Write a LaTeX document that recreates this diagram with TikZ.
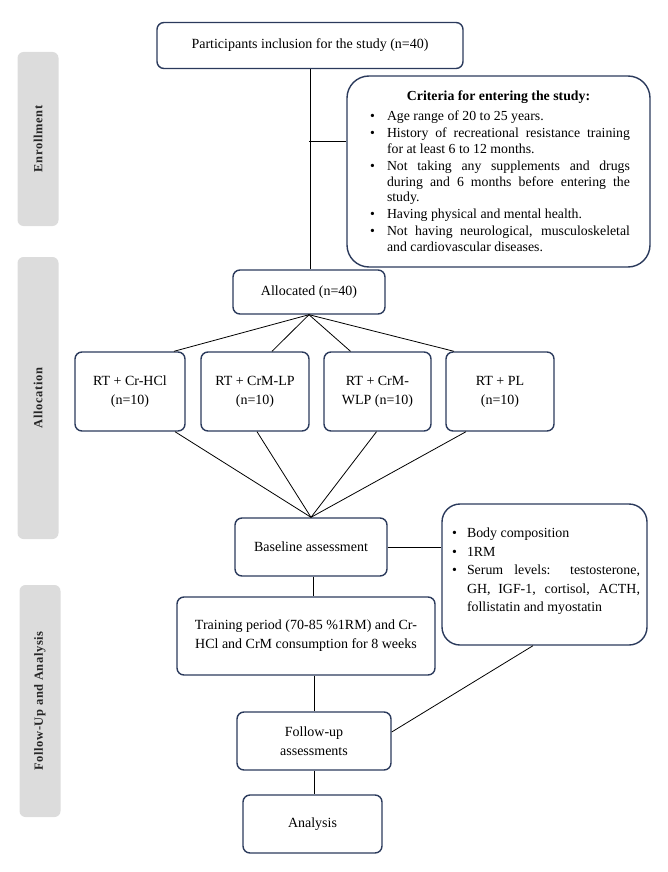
\documentclass[tikz,border=0pt]{standalone}
\usepackage{fontspec}
\setmainfont{Liberation Serif}
\usepackage{enumitem}
\definecolor{boxline}{HTML}{2B3A5C}
\definecolor{lanegray}{HTML}{DCDCDC}
\tikzset{
  stage/.style={draw=boxline, line width=1.4pt, rounded corners=7pt, align=center,
    inner sep=2pt, font=\fontsize{14}{19}\selectfont},
  lane/.style={fill=lanegray, rounded corners=6pt, rotate=90, minimum height=41pt,
    text=black!85, font=\bfseries\fontsize{12.5}{14}\selectfont\addfontfeature{LetterSpace=5}},
  link/.style={line width=0.8pt}
}
\begin{document}
\begin{tikzpicture}[x=1pt, y=-1pt]
    \useasboundingbox (0,0) rectangle (668,872);
    % Lanes
    \node[lane, minimum width=174pt] (enr) at (38,139) {Enrollment};
    \node[lane, minimum width=282pt] (allo) at (38,398) {Allocation};
    \node[lane, minimum width=232pt] (fua) at (40,701) {Follow-Up and Analysis};
    % Nodes
    \node[stage, minimum width=306pt, minimum height=46pt] (top) at (310,45.5) {Participants inclusion for the study (n=40)};
    \node[stage, rounded corners=22pt, minimum width=303pt, minimum height=191pt, text width=263pt, align=justify,
      font=\fontsize{13.8}{15.8}\selectfont] (crit) at (498.5,171.5) {%
      {\centering\bfseries Criteria for entering the study:\par}
      \begin{itemize}[leftmargin=20pt, labelsep=12pt, itemsep=1.2pt, parsep=0pt, topsep=2pt]
        \item Age range of 20 to 25 years.
        \item History of recreational resistance training\linebreak for at least 6 to 12 months.
        \item Not taking any supplements and drugs\linebreak during and 6 months before entering the\linebreak study.
        \item Having physical and mental health.
        \item Not having neurological, musculoskeletal\linebreak and cardiovascular diseases.
      \end{itemize}};
    \node[stage, minimum width=152pt, minimum height=44pt] (alloc) at (309,292) {Allocated (n=40)};
    \node[stage, minimum width=110pt, minimum height=79pt] (g1) at (130,391.5) {RT + Cr-HCl\\(n=10)};
    \node[stage, minimum width=108pt, minimum height=79pt] (g2) at (255,391.5) {RT + CrM-LP\\(n=10)};
    \node[stage, minimum width=107pt, minimum height=79pt] (g3) at (377.5,391.5) {RT + CrM-\\WLP (n=10)};
    \node[stage, minimum width=108pt, minimum height=79pt] (g4) at (500,391.5) {RT + PL\\(n=10)};
    \node[stage, minimum width=152pt, minimum height=58pt] (base) at (311,547) {Baseline assessment};
    \node[stage, rounded corners=18pt, minimum width=205pt, minimum height=141pt,
      font=\fontsize{13.9}{18.5}\selectfont] (meas) at (544.5,574.5) {%
      \parbox[c][133pt][t]{191pt}{\vspace*{18pt}%
      \begin{itemize}[leftmargin=18pt, labelsep=10pt, itemsep=0pt, parsep=0pt, topsep=0pt]
        \item Body composition
        \item 1RM
        \item Serum levels: testosterone,\linebreak GH, IGF-1, cortisol, ACTH,\linebreak follistatin and myostatin
      \end{itemize}}};
    \node[stage, minimum width=258pt, minimum height=78pt] (train) at (306,636) {Training period (70-85 \%1RM) and Cr-\\HCl and CrM consumption for 8 weeks};
    \node[stage, minimum width=154pt, minimum height=58pt] (fol) at (314,741) {Follow-up\\assessments};
    \node[stage, minimum width=139pt, minimum height=58pt] (ana) at (312.5,824) {Analysis};
    \coordinate (j1) at (309,141);
    % Connection
    \draw[link] (top.south) -- (top.south |- alloc.north);
    \draw[link] (j1) -- (j1 -| crit.west);
    \draw[link] (alloc.south) -- ([xshift=44pt]g1.north);
    \draw[link] (alloc.south) -- ([xshift=17pt]g2.north);
    \draw[link] (alloc.south) -- ([xshift=-27pt]g3.north);
    \draw[link] (alloc.south) -- ([xshift=-46pt]g4.north);
    \draw[link] ([xshift=45pt]g1.south) -- (base.north);
    \draw[link] ([xshift=2pt]g2.south) -- (base.north);
    \draw[link] ([xshift=-1pt]g3.south) -- (base.north);
    \draw[link] ([xshift=-34pt]g4.south) -- (base.north);
    \draw[link] (base.east) -- (base.east -| meas.west);
    \draw[link] ([xshift=2pt]base.south) -- ([xshift=2pt]base.south |- train.north);
    \draw[link] (fol.north |- train.south) -- (fol.north);
    \draw[link] (fol.south) -- (fol.south |- ana.north);
    \draw[link] ([xshift=-11.5pt]meas.south) -- ([yshift=9pt]fol.east);
\end{tikzpicture}
\end{document}
